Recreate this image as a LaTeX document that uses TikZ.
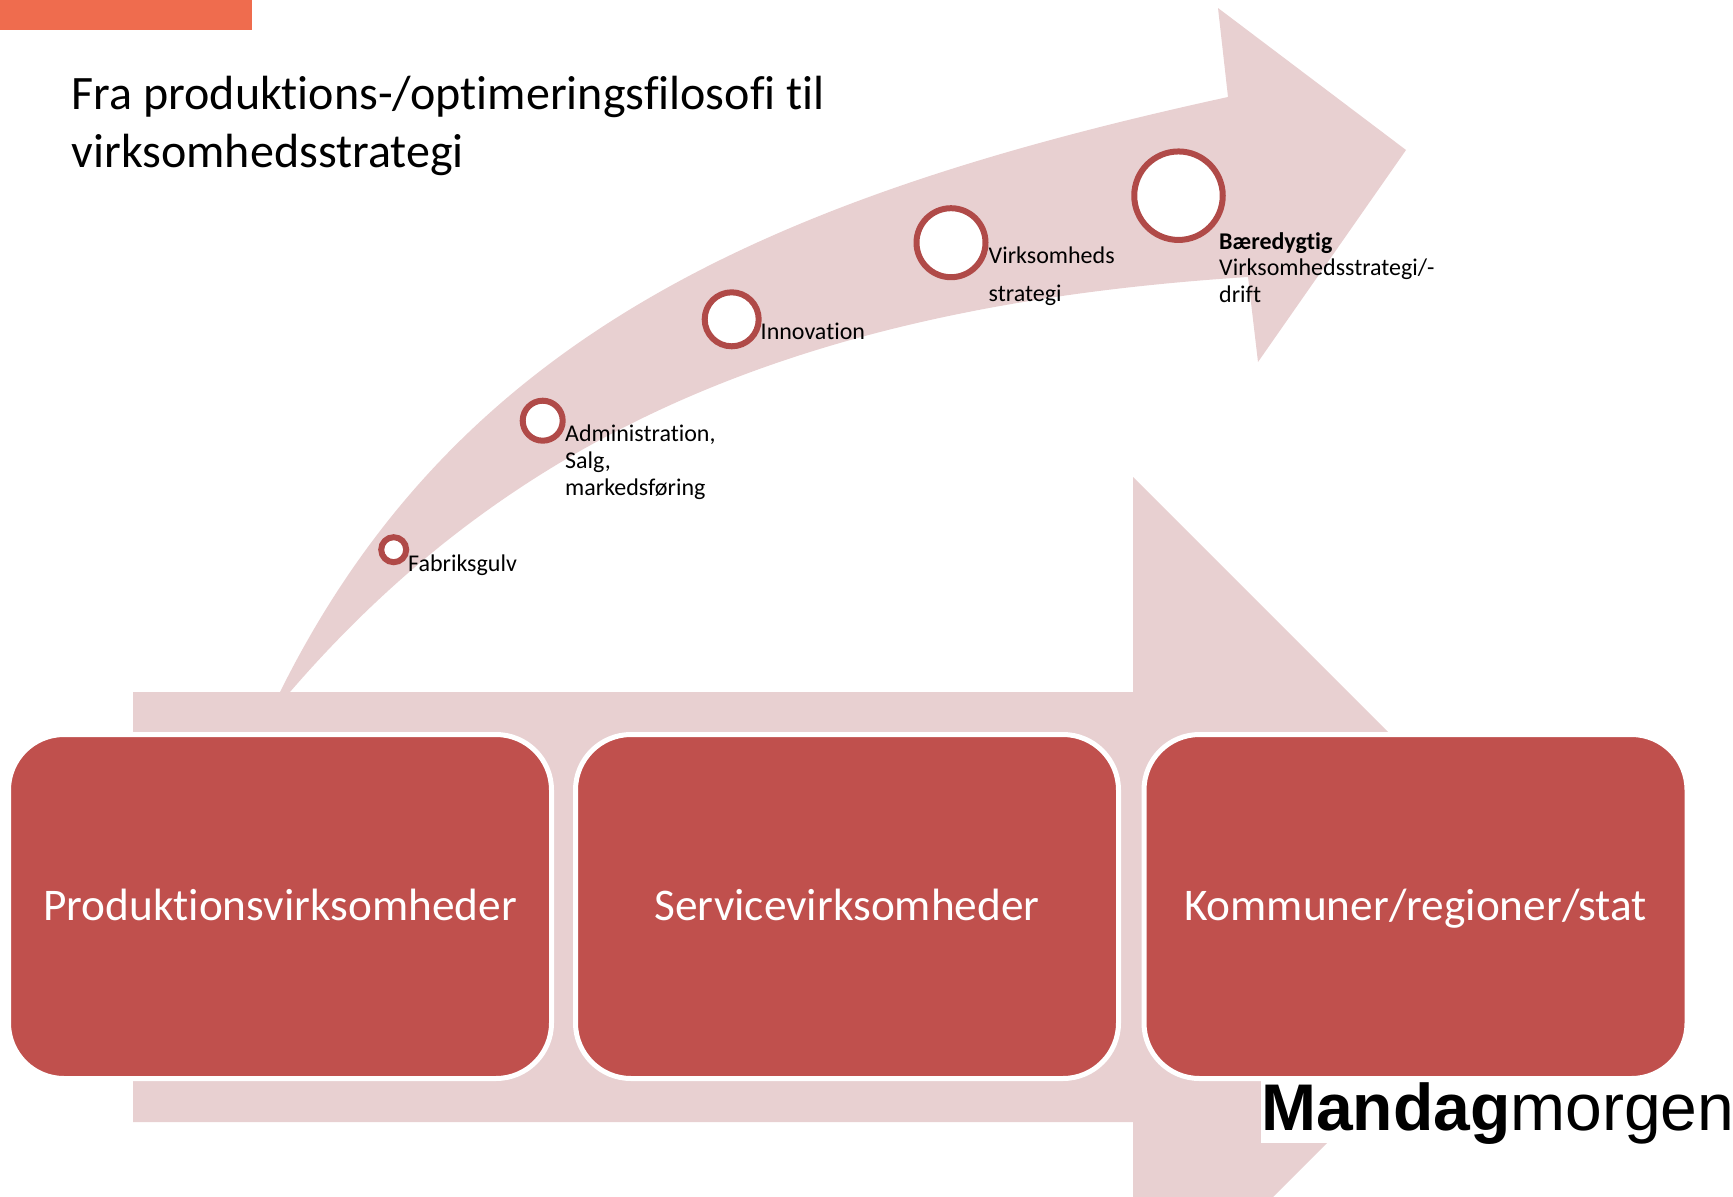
\documentclass[tikz,border=0pt]{standalone}
\usepackage{fontspec}
\setmainfont{Carlito}[Ligatures=CommonOff]
\newfontfamily\logofont{Liberation Sans}
\usetikzlibrary{positioning}
\definecolor{pale}{HTML}{E8D0D1}
\definecolor{brick}{HTML}{C0504D}
\definecolor{ring}{HTML}{B04A48}
\definecolor{tab}{HTML}{EF6C4E}
\tikzset{
  bigbox/.style={draw=white, line width=5pt, fill=brick, rounded corners=55.5pt, minimum width=543pt, minimum height=344pt, text=white, text height=40pt, text depth=12pt, font=\fontsize{45.3}{50}\selectfont},
  stage/.style={circle, draw=ring, fill=white, line width=6pt, inner sep=0pt},
  stagetext/.style={anchor=north west, inner sep=0pt, align=left, font=\fontsize{24}{26.7}\selectfont}
}

\begin{document}
\begin{tikzpicture}[x=1pt, y=-1pt]
  \useasboundingbox (0,0) rectangle (1733,1197);

  % top tab and heading
  \fill[tab] (0,0) rectangle (252,30);
  \node (heading) [anchor=north west, inner sep=0pt, align=left, font=\fontsize{48}{58}\selectfont] at (71.5,76) {Fra produktions-/optimeringsfilosofi til\\virksomhedsstrategi};

  % flat arrow
  \fill[pale] (133,692) -- (1133,692) -- (1133,477) -- (1563,907) -- (1273,1197) -- (1133,1197) -- (1133,1122) -- (133,1122) -- cycle;

  % curved arrow
  \fill[pale] (280,692) .. controls (456,338) and (765,198) .. (1228,97) -- (1218,8) -- (1406,150) -- (1258,362) -- (1248,277)
    .. controls (810,305) and (517,429) .. (290,692) -- cycle;

  % lower boxes
  \node (production) [bigbox] at (280,906.5) {Produktionsvirksomheder};
  \node (service) [bigbox] at (847,906.5) {Servicevirksomheder};
  \node (public) [bigbox] at (1415.5,906.5) {Kommuner/regioner/stat};

  % stages
  \node (floor) [stage, minimum size=25pt] at (393.7,549.7) {};
  \node (admin) [stage, minimum size=40pt] at (542.7,420.7) {};
  \node (innovation) [stage, minimum size=54pt] at (731.7,319.3) {};
  \node (strategy) [stage, minimum size=69pt] at (951,242.7) {};
  \node (lasting) [stage, minimum size=88.5pt] at (1178.5,195.7) {};

  % stage labels
  \node (floorText) [stagetext] at (408,555) {Fabriksgulv};
  \node (adminText) [stagetext] at (565,425) {Administration,\\Salg,\\markedsføring};
  \node (innovationText) [stagetext] at (760.5,323) {Innovation};
  \node (strategyText) [stagetext, font=\fontsize{24}{37.5}\selectfont] at (988.5,247) {Virksomheds\\strategi};
  \node (lastingText) [stagetext] at (1219,232) {\textbf{Bæredygtig}\\Virksomhedsstrategi/-\\drift};

  % logo
  \fill[white] (1261,1081) rectangle (1733,1143);
  \node (logo) [anchor=base west, inner sep=0pt, font=\logofont\fontsize{66}{66}\selectfont] at (1261,1130) {\textbf{Mandag}morgen};
\end{tikzpicture}
\end{document}
